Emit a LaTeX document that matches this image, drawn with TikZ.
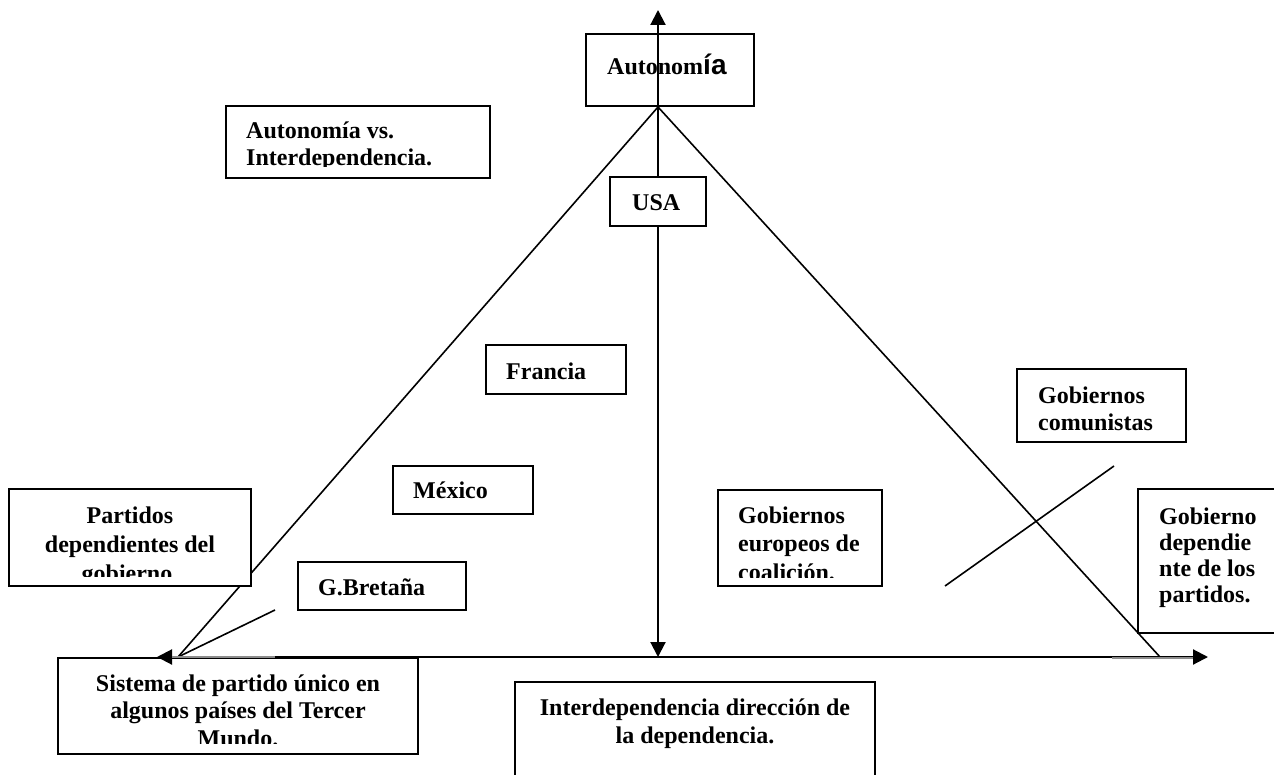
\documentclass[tikz,border=0pt]{standalone}
\usepackage{fontspec}
\setmainfont{Liberation Serif}
\newfontfamily\arialfont{Liberation Sans}
\usetikzlibrary{arrows.meta,fit}
\tikzset{
  boxshape/.style={draw, line width=2.1pt, fill=white, inner sep=0pt},
  lbl/.style={font=\bfseries\fontsize{24}{27.5}\selectfont, inner sep=0pt},
  axisline/.style={line width=2.1pt, {Triangle[length=15pt,width=15pt]}-{Triangle[length=15pt,width=15pt]}},
  legline/.style={line width=1.6pt},
  greyseg/.style={line width=2.8pt, black!45}
}
\begin{document}
\begin{tikzpicture}[x=1pt,y=-1pt]
\useasboundingbox (0,0) rectangle (1274,775);
\fill[white] (0,0) rectangle (1274,775);
\clip (0,0) rectangle (1274,775);

% named points
\coordinate (apex) at (658,107);
\coordinate (lft) at (178,657);
\coordinate (rgt) at (1160,657);
\coordinate (vtop) at (658,10);
\coordinate (vbot) at (658,657);
\coordinate (hl) at (157,657);
\coordinate (hr) at (1208,657);
\coordinate (gbEnd) at (275,610);
\coordinate (crossA) at (945,586);
\coordinate (crossB) at (1114,466);
\coordinate (gl1) at (172,657);
\coordinate (gl2) at (275,657);
\coordinate (gr1) at (1112,658);
\coordinate (gr2) at (1193,658);

% Autonomia box (under the axis)
\node[boxshape, fit={(586,34) (754,106)}] (autBox) {};
\node[lbl, anchor=base west] (autTxt) at (607,75) {Autonom{\arialfont\bfseries\fontsize{28}{30}\selectfont ía}};

% triangle legs
\draw[legline] (apex) -- (lft);
\draw[legline] (apex) -- (rgt);
\draw[legline] (lft) -- (gbEnd);
\draw[legline] (crossA) -- (crossB);

% vertical axis
\draw[axisline] (vtop) -- (vbot);

% boxes
\node[boxshape, fit={(610,177) (706,226)}] (usaBox) {};
\node[lbl, anchor=base west] (usaTxt) at (632,211) {USA};

\node[boxshape, fit={(226,106) (490,178)}] (vsBox) {};
\begin{scope}
\clip (226,106) rectangle (490,167);
\node[lbl, anchor=base west, font=\bfseries\fontsize{24}{27}\selectfont] (vsTxt) at (246,139)
  {\begin{tabular}[t]{@{}l@{}}Autonomía vs.\\Interdependencia.\end{tabular}};
\end{scope}

\node[boxshape, fit={(486,345) (626,394)}] (franBox) {};
\node[lbl, anchor=base west] (franTxt) at (506,379) {Francia};

\node[boxshape, fit={(393,466) (533,514)}] (mexBox) {};
\node[lbl, anchor=base west] (mexTxt) at (413,498) {México};

\node[boxshape, fit={(298,562) (466,610)}] (gbBox) {};
\node[lbl, anchor=base west] (gbTxt) at (318,595) {G.Bretaña};

\node[boxshape, fit={(9,489) (251,586)}] (partBox) {};
\begin{scope}
\clip (9,489) rectangle (251,576);
\node[lbl, anchor=base, font=\bfseries\fontsize{24}{29}\selectfont] (partTxt) at (130,523)
  {\begin{tabular}[t]{@{}c@{}}Partidos\\dependientes del\\gobierno.\end{tabular}};
\end{scope}

\node[boxshape, fit={(58,658) (418,754)}] (sisBox) {};
\begin{scope}
\clip (58,658) rectangle (418,743);
\node[lbl, anchor=base] (sisTxt) at (238,691)
  {\begin{tabular}[t]{@{}c@{}}Sistema de partido único en\\algunos países del Tercer\\Mundo.\end{tabular}};
\end{scope}

\node[boxshape, fit={(515,682) (875,790)}] (intBox) {};
\node[lbl, anchor=base, font=\bfseries\fontsize{24}{28}\selectfont] (intTxt) at (695,715)
  {\begin{tabular}[t]{@{}c@{}}Interdependencia dirección de\\la dependencia.\end{tabular}};

\node[boxshape, fit={(718,490) (882,586)}] (eurBox) {};
\begin{scope}
\clip (718,490) rectangle (882,577);
\node[lbl, anchor=base west, font=\bfseries\fontsize{24}{28.5}\selectfont] (eurTxt) at (738,523)
  {\begin{tabular}[t]{@{}l@{}}Gobiernos\\europeos de\\coalición.\end{tabular}};
\end{scope}

\node[boxshape, fit={(1017,369) (1186,442)}] (comBox) {};
\node[lbl, anchor=base west, font=\bfseries\fontsize{24}{27}\selectfont] (comTxt) at (1038,403)
  {\begin{tabular}[t]{@{}l@{}}Gobiernos\\comunistas\end{tabular}};

\node[boxshape, fit={(1138,489) (1290,633)}] (depBox) {};
\node[lbl, anchor=base west, font=\bfseries\fontsize{24}{26}\selectfont] (depTxt) at (1159,524)
  {\begin{tabular}[t]{@{}l@{}}Gobierno\\dependie\\nte de los\\partidos.\end{tabular}};

% horizontal axis on top
\draw[axisline] (hl) -- (hr);
\draw[greyseg] (gl1) -- (gl2);
\draw[greyseg] (gr1) -- (gr2);
\end{tikzpicture}
\end{document}
